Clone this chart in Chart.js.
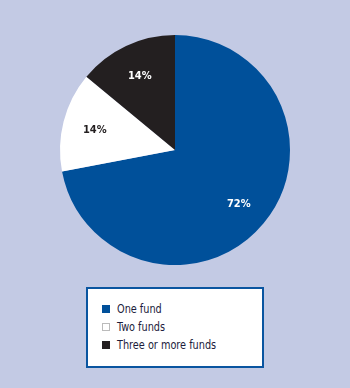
<!DOCTYPE html>
<html>
<head>
<meta charset="utf-8">
<script src="https://cdn.jsdelivr.net/npm/chart.js@4"></script>
<style>
  body { margin: 0; background: #c3cae4; }
  #wrap { position: relative; width: 350px; height: 388px; }
  #legend {
    position: absolute; left: 86px; top: 287px; width: 174px; height: 77px;
    background: #fff; border: 2px solid #0a55a0;
    font-family: "DejaVu Sans Condensed", sans-serif;
    font-size: 12px; color: #1c1c3c;
  }
  .item { position: absolute; left: 14px; height: 18px; line-height: 18px; white-space: nowrap; }
  .txt { display: inline-block; transform: scaleX(0.9); transform-origin: left center; }
  .sq { display: inline-block; width: 8px; height: 8px; margin-right: 7px; box-sizing: border-box; }
</style>
</head>
<body>
<div id="wrap">
  <canvas id="pie" width="350" height="388"></canvas>
  <div id="legend"></div>
</div>
<script>
var labels = ["One fund", "Two funds", "Three or more funds"];
var values = [72, 14, 14];
var colors = ["#00509a", "#ffffff", "#231f20"];
var labelColors = ["#ffffff", "#231f20", "#ffffff"];

// labels inside the slices, at ~72% of the radius
var sliceLabels = {
    id: "sliceLabels",
    afterDatasetsDraw: function(chart) {
        var ctx = chart.ctx;
        var arcs = chart.getDatasetMeta(0).data;
        ctx.save();
        ctx.font = "bold 11px 'DejaVu Sans Condensed', sans-serif";
        ctx.textAlign = "center";
        ctx.textBaseline = "middle";
        arcs.forEach(function(arc, i) {
            var mid = (arc.startAngle + arc.endAngle) / 2;
            var r = arc.outerRadius * 0.72;
            ctx.fillStyle = labelColors[i];
            ctx.fillText(values[i] + "%", arc.x + Math.cos(mid) * r, arc.y + Math.sin(mid) * r + 1);
        });
        ctx.restore();
    }
};

new Chart(document.getElementById("pie"), {
    type: "pie",
    data: {
        labels: labels,
        datasets: [{
            data: values,
            backgroundColor: colors,
            borderWidth: 0
        }]
    },
    options: {
        responsive: false,
        animation: false,
        layout: { padding: { left: 60, right: 60, top: 35, bottom: 123 } },
        plugins: { legend: { display: false }, tooltip: { enabled: false } }
    },
    plugins: [sliceLabels]
});

// legend box under the pie
var legend = document.getElementById("legend");
labels.forEach(function(name, i) {
    var div = document.createElement("div");
    div.className = "item";
    div.style.top = (11 + i * 18) + "px";
    var sq = document.createElement("span");
    sq.className = "sq";
    sq.style.background = colors[i];
    if (colors[i] == "#ffffff") sq.style.border = "1px solid #bbb";
    var txt = document.createElement("span");
    txt.className = "txt";
    txt.textContent = name;
    div.appendChild(sq);
    div.appendChild(txt);
    legend.appendChild(div);
});
</script>
</body>
</html>
